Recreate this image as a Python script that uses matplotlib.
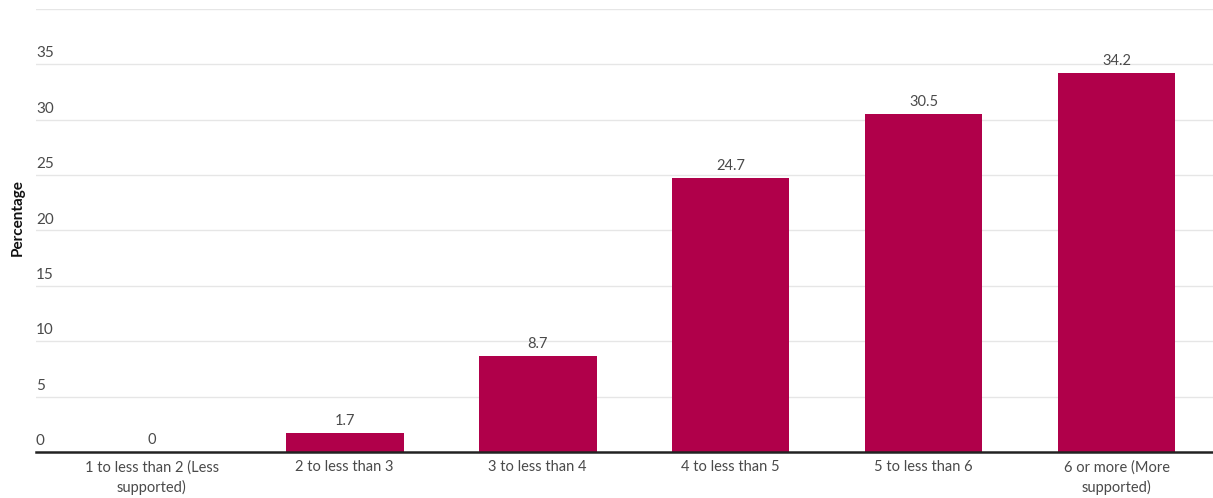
import matplotlib.pyplot as plt
import matplotlib.transforms as mtransforms

categories = ['1 to less than 2 (Less\nsupported)', '2 to less than 3', '3 to less than 4',
              '4 to less than 5', '5 to less than 6', '6 or more (More\nsupported)']
values = [0, 1.7, 8.7, 24.7, 30.5, 34.2]
yticks = [0, 5, 10, 15, 20, 25, 30, 35]

bar_color = '#b0004a'
text_color = '#4a4a4a'
plt.rcParams['font.family'] = ['Lato', 'DejaVu Sans']

fig = plt.figure(figsize=(12.13, 4.98), dpi=100)
ax = fig.add_axes([36 / 1213, 46 / 498, 1 - 36 / 1213, (452 - 9) / 498])

x = list(range(len(categories)))
ax.bar(x, values, width=0.61, color=bar_color, zorder=3)

for xi, v in zip(x, values):
    ax.text(xi, v + 0.45, f'{v:g}', ha='center', va='bottom', fontsize=10.5, color=text_color)

ax.set_ylim(0, 40)
ax.set_xlim(-0.6, 5.5)

# light gridlines, labels sit just above each line at the left edge
for t in yticks[1:] + [40]:
    ax.axhline(t, color='#e6e6e6', lw=1, zorder=1)
trans = mtransforms.blended_transform_factory(ax.transAxes, ax.transData)
for t in yticks:
    ax.text(0.0, t + 0.35, str(t), transform=trans, ha='left', va='bottom',
            fontsize=11, color=text_color)
ax.set_yticks([])

ax.set_xticks(x)
ax.set_xticklabels(categories, fontsize=10.5, color=text_color, linespacing=1.45)
ax.tick_params(axis='x', length=0, pad=6)

for side in ['top', 'right', 'left']:
    ax.spines[side].set_visible(False)
ax.spines['bottom'].set_color('#222222')
ax.spines['bottom'].set_linewidth(1.8)
ax.spines['bottom'].set_zorder(4)

fig.text(18 / 1213, 1 - 218 / 498, 'Percentage', rotation=90, ha='center', va='center',
         fontsize=11, fontweight='bold', color='#111111')

fig.savefig('out.png', dpi=100)
